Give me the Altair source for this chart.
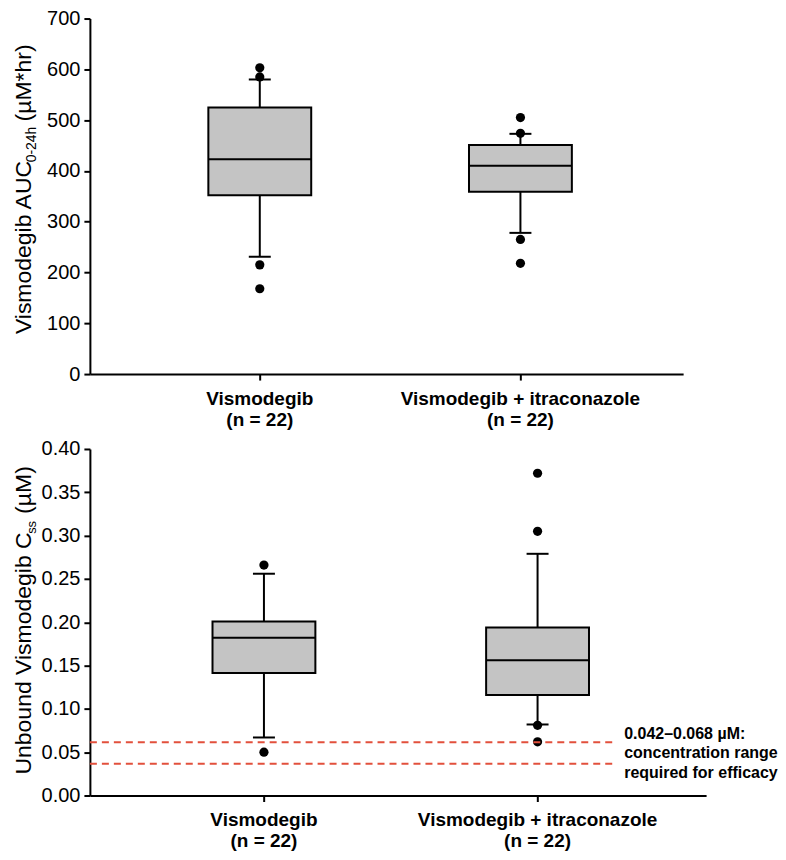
import altair as alt
import pandas as pd

# ---------------- data ----------------
categories = ["Vismodegib", "Vismodegib + itraconazole"]
n_subjects = [22, 22]

# Top panel: Vismodegib AUC0-24h (µM*hr)
auc_whisker_low = [231, 278]
auc_q1 = [352, 359]
auc_median = [423, 410]
auc_q3 = [525, 451]
auc_whisker_high = [580, 473]
auc_outlier_group = [0, 0, 0, 0, 1, 1, 1, 1]
auc_outlier_value = [603, 585, 215, 168, 505, 474, 265, 218]
auc_ticks = [0, 100, 200, 300, 400, 500, 600, 700]

# Bottom panel: Unbound vismodegib Css (µM)
css_whisker_low = [0.067, 0.082]
css_q1 = [0.1415, 0.116]
css_median = [0.182, 0.156]
css_q3 = [0.201, 0.194]
css_whisker_high = [0.256, 0.279]
css_outlier_group = [0, 0, 1, 1, 1, 1]
css_outlier_value = [0.266, 0.050, 0.372, 0.305, 0.081, 0.062]
css_ticks = [0.0, 0.05, 0.10, 0.15, 0.20, 0.25, 0.30, 0.35, 0.40]

efficacy_lines = [0.0614, 0.0368]
efficacy_label = ["0.042\u20130.068 \u00b5M:", "concentration range", "required for efficacy"]

FONT = "Liberation Sans"
labels = [f"{c}|(n = {n})" for c, n in zip(categories, n_subjects)]


def stats_frame(lo, q1, med, q3, hi):
    return pd.DataFrame({"label": labels, "lo": lo, "q1": q1, "med": med, "q3": q3, "hi": hi})


def outlier_frame(groups, values):
    return pd.DataFrame({"label": [labels[g] for g in groups], "val": values})


def text_piece(txt, x, y, size):
    return alt.Chart(pd.DataFrame({"t": [txt]})).mark_text(
        angle=270, align="left", baseline="alphabetic", font=FONT,
        fontSize=size, color="black"
    ).encode(x=alt.value(x), y=alt.value(y), text="t:N")


def panel(stats, outl, domain, ticks, fmt, width, height, pad_outer, align, titles, extra=None):
    xenc = alt.X("label:N", sort=None,
                 scale=alt.Scale(type="band", paddingInner=0, paddingOuter=pad_outer, align=align),
                 axis=alt.Axis(title=None, labelAngle=0, labelExpr="split(datum.label, '|')",
                               labelFontWeight="bold", labelFontSize=19, labelLineHeight=21,
                               labelPadding=9, tickSize=6, labelLimit=0))
    yaxis = alt.Axis(title=None, values=ticks, format=fmt)
    yscale = alt.Scale(domain=domain, nice=False, zero=True)

    base = alt.Chart(stats)
    whisk = base.mark_rule(color="black", strokeWidth=2).encode(
        x=xenc, y=alt.Y("lo:Q", scale=yscale, axis=yaxis), y2="hi:Q")
    box = base.mark_bar(size=103, fill="#c4c4c4", stroke="black", strokeWidth=2).encode(
        x=xenc, y=alt.Y("q1:Q", scale=yscale, axis=yaxis), y2="q3:Q")
    med = base.mark_tick(size=103, thickness=2, color="black", opacity=1).encode(
        x=xenc, y=alt.Y("med:Q", scale=yscale, axis=yaxis))
    cap_lo = base.mark_tick(size=22, thickness=2, color="black", opacity=1).encode(
        x=xenc, y=alt.Y("lo:Q", scale=yscale, axis=yaxis))
    cap_hi = base.mark_tick(size=22, thickness=2, color="black", opacity=1).encode(
        x=xenc, y=alt.Y("hi:Q", scale=yscale, axis=yaxis))
    pts = alt.Chart(outl).mark_circle(size=85, color="black", opacity=1).encode(
        x=xenc, y=alt.Y("val:Q", scale=yscale, axis=yaxis))

    layers = [whisk, box, med, cap_lo, cap_hi, pts]
    if extra is not None:
        layers += extra
    layers += titles
    return alt.layer(*layers).properties(width=width, height=height)


# ---------------- top panel ----------------
top_titles = [
    text_piece("Vismodegib AUC", -59, 316, 23),
    text_piece("0-24h", -54, 144, 14),
    text_piece("(\u00b5M*hr)", -59, 103, 23),
]
top = panel(
    stats_frame(auc_whisker_low, auc_q1, auc_median, auc_q3, auc_whisker_high),
    outlier_frame(auc_outlier_group, auc_outlier_value),
    [0, 700], auc_ticks, "d", 594, 356, 0.138, 0.55, top_titles,
)

# ---------------- bottom panel ----------------
eff_df = pd.DataFrame({"v": efficacy_lines})
eff_rules = alt.Chart(eff_df).mark_rule(color="#e2503c", strokeWidth=2, strokeDash=[7, 5]).encode(
    x=alt.value(0), x2=alt.value(523),
    y=alt.Y("v:Q", scale=alt.Scale(domain=[0, 0.4], nice=False),
            axis=alt.Axis(title=None, values=css_ticks, format=".2f")))
eff_text = alt.Chart(pd.DataFrame({"t": ["\n".join(efficacy_label)]})).mark_text(
    align="left", baseline="middle", font=FONT, fontSize=16, fontWeight="bold",
    lineBreak="\n", lineHeight=19.5, color="black"
).encode(x=alt.value(535), y=alt.value(285), text="t:N")

bottom_titles = [
    text_piece("Unbound Vismodegib C", -59, 326, 23),
    text_piece("ss", -54, 85, 13),
    text_piece("(\u00b5M)", -59, 65, 23),
]
bottom = panel(
    stats_frame(css_whisker_low, css_q1, css_median, css_q3, css_whisker_high),
    outlier_frame(css_outlier_group, css_outlier_value),
    [0, 0.4], css_ticks, ".2f", 617, 347, 0.126, 0.54, bottom_titles,
    extra=[eff_rules, eff_text],
)

chart = alt.vconcat(top, bottom, spacing=10).properties(
    padding={"left": 4, "top": 0, "right": 0, "bottom": 0}
).configure_view(stroke=None).configure_axis(
    domainColor="black", domainWidth=2, tickColor="black", tickWidth=2, tickSize=6,
    labelFont=FONT, labelFontSize=20, labelColor="black", labelPadding=4, grid=False,
).configure_concat(spacing=10)

chart.save("out.html", embed_options={"renderer": "svg", "actions": False})
